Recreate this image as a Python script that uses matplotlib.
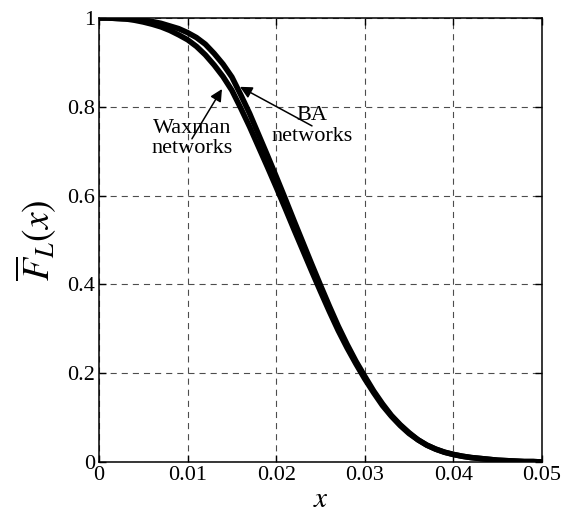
import matplotlib
matplotlib.use("Agg")
import matplotlib.pyplot as plt

plt.rcParams['font.family'] = ['Liberation Serif', 'DejaVu Serif']
plt.rcParams['mathtext.fontset'] = 'stix'

x_vals = [0.000, 0.001, 0.002, 0.003, 0.004, 0.005, 0.006, 0.007, 0.008, 0.009,
          0.010, 0.011, 0.012, 0.013, 0.014, 0.015, 0.016, 0.017, 0.018, 0.019,
          0.020, 0.021, 0.022, 0.023, 0.024, 0.025, 0.026, 0.027, 0.028, 0.029,
          0.030, 0.031, 0.032, 0.033, 0.034, 0.035, 0.036, 0.037, 0.038, 0.039,
          0.040, 0.041, 0.042, 0.043, 0.044, 0.045, 0.046, 0.047, 0.048, 0.049, 0.050]

ba_vals = [1.000, 1.000, 0.999, 0.998, 0.997, 0.995, 0.992, 0.988, 0.982, 0.976,
           0.967, 0.956, 0.941, 0.920, 0.896, 0.867, 0.827, 0.785, 0.738, 0.691,
           0.643, 0.594, 0.544, 0.495, 0.446, 0.398, 0.351, 0.306, 0.265, 0.227,
           0.193, 0.160, 0.131, 0.105, 0.084, 0.066, 0.050, 0.038, 0.029, 0.022,
           0.017, 0.013, 0.010, 0.008, 0.006, 0.004, 0.003, 0.002, 0.001, 0.001, 0.000]

waxman_vals = [1.000, 1.000, 0.999, 0.998, 0.995, 0.991, 0.986, 0.980, 0.972, 0.962,
               0.951, 0.936, 0.917, 0.894, 0.868, 0.837, 0.797, 0.755, 0.710, 0.665,
               0.619, 0.572, 0.524, 0.477, 0.430, 0.384, 0.339, 0.296, 0.257, 0.221,
               0.187, 0.156, 0.127, 0.103, 0.082, 0.064, 0.050, 0.038, 0.029, 0.022,
               0.017, 0.013, 0.010, 0.008, 0.006, 0.004, 0.003, 0.002, 0.001, 0.001, 0.000]

x_ticks = [0, 0.01, 0.02, 0.03, 0.04, 0.05]
x_tick_labels = ['0', '0.01', '0.02', '0.03', '0.04', '0.05']
y_ticks = [0, 0.2, 0.4, 0.6, 0.8, 1.0]
y_tick_labels = ['0', '0.2', '0.4', '0.6', '0.8', '1']

fig = plt.figure(figsize=(5.71, 5.16), dpi=100)
ax = fig.add_axes([99/571, 54/516, 443/571, 444/516])

ax.plot(x_vals, ba_vals, color='black', lw=4.0, solid_capstyle='butt')
ax.plot(x_vals, waxman_vals, color='black', lw=4.0, solid_capstyle='butt')

ax.set_xlim(0, 0.05)
ax.set_ylim(0, 1)
ax.set_xticks(x_ticks)
ax.set_xticklabels(x_tick_labels)
ax.set_yticks(y_ticks)
ax.set_yticklabels(y_tick_labels)
ax.tick_params(direction='in', length=5, width=1, top=True, right=True,
               labelsize=16, pad=3)
for s in ax.spines.values():
    s.set_linewidth(1.1)

ax.grid(True, linestyle=(0, (5.5, 4.5)), linewidth=0.8, color='0.3')
ax.set_axisbelow(True)

ax.set_xlabel('$x$', fontsize=21, labelpad=1)
ax.set_ylabel(r'$\overline{F}_L(x)$', fontsize=27, labelpad=6)

ax.annotate('Waxman\nnetworks', xy=(0.01388, 0.840), xytext=(0.01049, 0.728),
            ha='center', va='center', fontsize=16, linespacing=1.1,
            arrowprops=dict(arrowstyle='-|>', color='black', lw=1.1,
                            mutation_scale=18, shrinkA=0, shrinkB=0,
                            patchA=None),
            )
ax.annotate('BA\nnetworks', xy=(0.01591, 0.845), xytext=(0.02404, 0.757),
            ha='center', va='center', fontsize=16, linespacing=1.1,
            arrowprops=dict(arrowstyle='-|>', color='black', lw=1.1,
                            mutation_scale=18, shrinkA=0, shrinkB=0,
                            patchA=None),
            )

fig.savefig('out.png', dpi=100)
